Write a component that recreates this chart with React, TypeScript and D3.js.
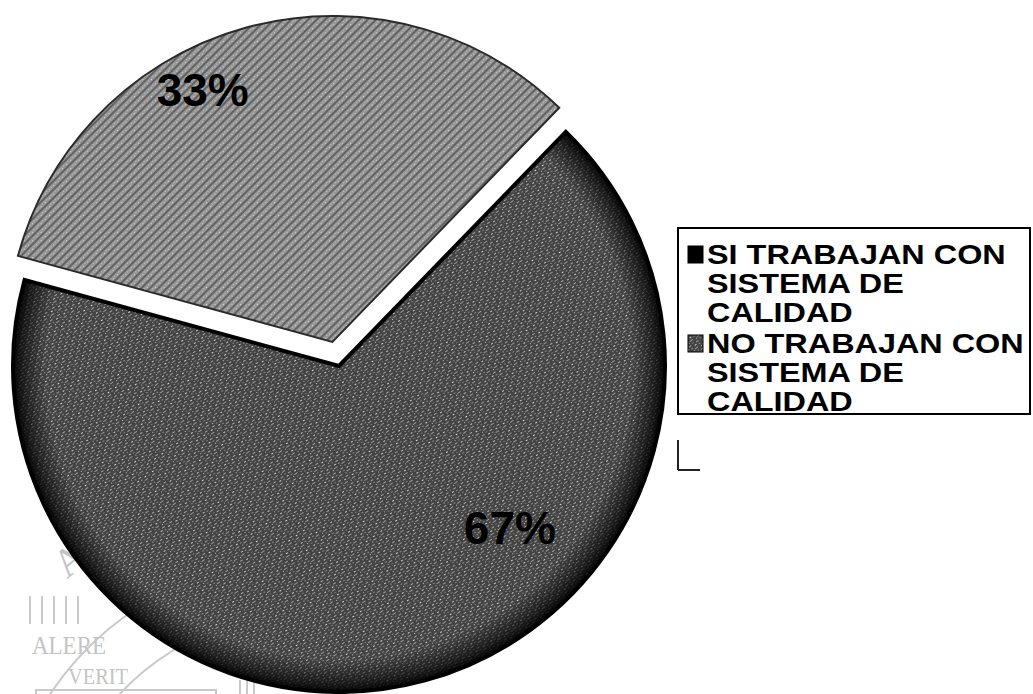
import React from "react";
import * as d3 from "d3";

const categories = ["SI TRABAJAN CON SISTEMA DE CALIDAD", "NO TRABAJAN CON SISTEMA DE CALIDAD"];
const legendLines = [
  ["SI TRABAJAN CON", "SISTEMA DE", "CALIDAD"],
  ["NO TRABAJAN CON", "SISTEMA DE", "CALIDAD"],
];
const values = [67, 33];
const labels = ["67%", "33%"];

const W = 1033;
const H = 694;
const cx = 339;
const cy = 366;
const R = 326;
const START_DEG = 44.1;
const EXPLODE = 25;
const labelFrac = [0.37, 0.4];
const labelRad = [235, 284];
const LEGEND_SX = 1.2;

export default function App() {
  const pie = d3
    .pie<number>()
    .sort(null)
    .value((d) => d)
    .startAngle((START_DEG * Math.PI) / 180)
    .endAngle((START_DEG * Math.PI) / 180 + 2 * Math.PI);
  const arcs = pie(values);
  const arc = d3.arc<d3.PieArcDatum<number>>().innerRadius(0).outerRadius(R);
  const fills = ["url(#darkTex)", "url(#lightTex)"];
  const explode = [0, EXPLODE];

  const wmArc = d3.arc();
  const wmCx = 300;
  const wmCy = 860;

  return (
    <svg
      width={W}
      height={H}
      style={{ position: "absolute", left: 0, top: 0, background: "#fff" }}
      fontFamily="'Liberation Sans', Arial, sans-serif"
    >
      <defs>
        <pattern id="lightTex" width="6" height="6" patternUnits="userSpaceOnUse" patternTransform="rotate(45)">
          <rect width="6" height="6" fill="#979797" />
          <rect x="0" y="0" width="2" height="6" fill="#626262" />
          <rect x="4" y="2" width="1" height="1" fill="#dcdcdc" />
          <rect x="3" y="5" width="1" height="1" fill="#c4c4c4" />
        </pattern>
        <pattern id="darkTex" width="9" height="9" patternUnits="userSpaceOnUse" patternTransform="rotate(-35)">
          <rect width="9" height="9" fill="#434343" />
          <rect x="0" y="0" width="4" height="1" fill="#999" />
          <rect x="5" y="4" width="3" height="1" fill="#a4a4a4" />
          <rect x="2" y="6" width="2" height="1" fill="#d6d6d6" />
          <rect x="7" y="1" width="1" height="1" fill="#c4c4c4" />
          <rect x="1" y="3" width="2" height="1" fill="#7a7a7a" />
          <rect x="6" y="7" width="2" height="1" fill="#8c8c8c" />
        </pattern>
        <radialGradient id="edgeShadeLocal" gradientUnits="userSpaceOnUse" cx={0} cy={0} r={R}>
          <stop offset="0.9" stopColor="#000" stopOpacity="0" />
          <stop offset="0.97" stopColor="#000" stopOpacity="0.6" />
          <stop offset="1" stopColor="#000" stopOpacity="0.95" />
        </radialGradient>
      </defs>

      {/* faint watermark */}
      <g fill="none" stroke="#c9c9c9" strokeWidth={2}>
        <path d={wmArc({ innerRadius: 300, outerRadius: 300, startAngle: -1.6, endAngle: -0.4 } as any) || ""} transform={`translate(${wmCx},${wmCy})`} />
        <path d={wmArc({ innerRadius: 245, outerRadius: 245, startAngle: -1.6, endAngle: -0.4 } as any) || ""} transform={`translate(${wmCx},${wmCy})`} />
        <rect x={36} y={690} width={180} height={20} />
        {[30, 42, 54, 66, 78].map((x) => (
          <line key={x} x1={x} y1={596} x2={x} y2={624} />
        ))}
        {[240, 247, 254].map((x) => (
          <line key={x} x1={x} y1={680} x2={x} y2={694} />
        ))}
      </g>
      <g fill="#c4c4c4" fontFamily="'Liberation Serif', serif">
        <text x={32} y={654} fontSize={26} textLength={74} lengthAdjust="spacingAndGlyphs">ALERE</text>
        <text x={68} y={684} fontSize={24} textLength={60} lengthAdjust="spacingAndGlyphs">VERIT</text>
        <text x={60} y={560} fontSize={40} transform="rotate(-40 90 560)">AVT</text>
      </g>

      {arcs.map((a, i) => {
        const mid = (a.startAngle + a.endAngle) / 2;
        const ox = Math.sin(mid) * explode[i];
        const oy = -Math.cos(mid) * explode[i];
        return (
          <g key={categories[i]} transform={`translate(${cx + ox},${cy + oy})`}>
            <path d={arc(a) || ""} fill={fills[i]} stroke={i === 0 ? "#000" : "#2a2a2a"} strokeWidth={i === 0 ? 4 : 2} />
            {i === 0 && <path d={arc(a) || ""} fill="url(#edgeShadeLocal)" />}
          </g>
        );
      })}

      {arcs.map((a, i) => {
        const mid = (a.startAngle + a.endAngle) / 2;
        const ox = Math.sin(mid) * explode[i];
        const oy = -Math.cos(mid) * explode[i];
        const ang = a.startAngle + labelFrac[i] * (a.endAngle - a.startAngle);
        const lx = cx + ox + Math.sin(ang) * labelRad[i];
        const ly = cy + oy - Math.cos(ang) * labelRad[i];
        return (
          <text key={labels[i]} x={lx} y={ly} dy="0.36em" textAnchor="middle" fontSize={46} fontWeight="bold" fill="#000">
            {labels[i]}
          </text>
        );
      })}

      {/* legend */}
      <rect x={678} y={228} width={352} height={186} fill="#fff" stroke="#000" strokeWidth={2} />
      <line x1={678} y1={440} x2={678} y2={470} stroke="#222" strokeWidth={2} />
      <line x1={678} y1={470} x2={700} y2={470} stroke="#222" strokeWidth={2} />
      {legendLines.map((lines, i) => {
        const y0 = 264 + i * 89;
        return (
          <g key={i}>
            <rect x={688} y={y0 - 18} width={15} height={17} fill={i === 0 ? "#000" : "url(#darkTex)"} stroke="#000" strokeWidth={1} />
            <g transform={`translate(707,0) scale(${LEGEND_SX},1)`}>
              {lines.map((t, j) => (
                <text key={j} x={0} y={y0 + j * 29} fontSize={27} fontWeight="bold" fill="#000">
                  {t}
                </text>
              ))}
            </g>
          </g>
        );
      })}
    </svg>
  );
}
